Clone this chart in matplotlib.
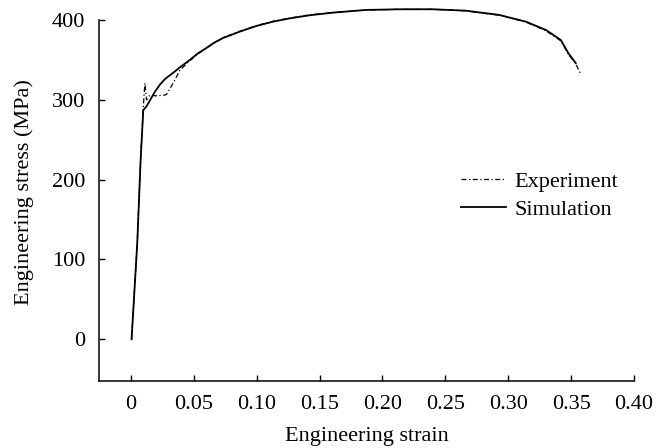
import matplotlib
matplotlib.use("Agg")
import matplotlib.pyplot as plt

#font like the original (Times style)
plt.rcParams['font.family'] = ['Liberation Serif', 'DejaVu Serif']

#------------------ data ------------------
sim_strain = [0.0005, 0.005, 0.0077, 0.0098, 0.0124, 0.015, 0.019, 0.023, 0.027, 0.0336,
              0.040, 0.0468, 0.053, 0.060, 0.066, 0.0733, 0.080, 0.0865, 0.0998, 0.113,
              0.126, 0.142, 0.1606, 0.187, 0.2135, 0.240, 0.266, 0.293, 0.314, 0.330,
              0.3418, 0.348, 0.3537]
sim_stress = [0, 120, 225, 287, 292, 299, 310, 319, 326, 334,
              342, 350, 358, 365, 371.5, 377.6, 381.5, 385.5, 392.6, 398,
              402, 406, 409.3, 412.7, 413.5, 413.5, 411.8, 406.4, 398, 387.6,
              375, 358, 346]

exp_strain = [0.0005, 0.005, 0.0077, 0.0098, 0.0111, 0.0124, 0.0151, 0.020, 0.027, 0.0283,
              0.0336, 0.0389, 0.046, 0.053, 0.060, 0.0733, 0.0865, 0.0998, 0.113, 0.126,
              0.142, 0.1606, 0.187, 0.2135, 0.240, 0.266, 0.293, 0.314, 0.330, 0.3418,
              0.348, 0.3537, 0.3577]
exp_stress = [0, 120, 225, 290, 321, 300, 306, 305, 306, 307,
              321, 337, 348, 357, 365, 378, 386, 393, 398.5, 402.5,
              406.5, 409.5, 412.5, 413.5, 413.5, 411.5, 406, 397.5, 386.5, 374,
              357, 345, 332]

x_ticks = [0, 0.05, 0.10, 0.15, 0.20, 0.25, 0.30, 0.35, 0.40]
x_tick_labels = ['0', '0.05', '0.10', '0.15', '0.20', '0.25', '0.30', '0.35', '0.40']
y_ticks = [0, 100, 200, 300, 400]

#------------------ figure ------------------
fig = plt.figure(figsize=(6.57, 4.48), dpi=100)
ax = fig.add_axes([99/657, 1-380.7/448, 535/657, 376.6/448])

ax.plot(exp_strain, exp_stress, color='black', linestyle=(0, (4, 2, 1, 2)), linewidth=0.9,
        label='Experiment')
ax.plot(sim_strain, sim_stress, color='black', linestyle='-', linewidth=1.3,
        label='Simulation')

ax.set_xlim(-0.0254, 0.40)
ax.set_ylim(-52, 420)

#only left and bottom axis, left one stops at 400
ax.spines['top'].set_visible(False)
ax.spines['right'].set_visible(False)
ax.spines['left'].set_bounds(-52, 400)
ax.spines['left'].set_linewidth(1.1)
ax.spines['bottom'].set_linewidth(1.1)

ax.set_xticks(x_ticks)
ax.set_xticklabels(x_tick_labels)
ax.set_yticks(y_ticks)
ax.tick_params(axis='both', direction='in', length=4, width=1, labelsize=16, pad=10)

ax.set_xlabel('Engineering strain', fontsize=16, labelpad=10)
ax.set_ylabel('Engineering stress (MPa)', fontsize=16, labelpad=13)

ax.legend(loc='upper left', bbox_to_anchor=(0.64, 0.61), frameon=False, fontsize=16,
          handlelength=2.0, handletextpad=0.4, labelspacing=0.35)

fig.savefig('out.png', dpi=100)
